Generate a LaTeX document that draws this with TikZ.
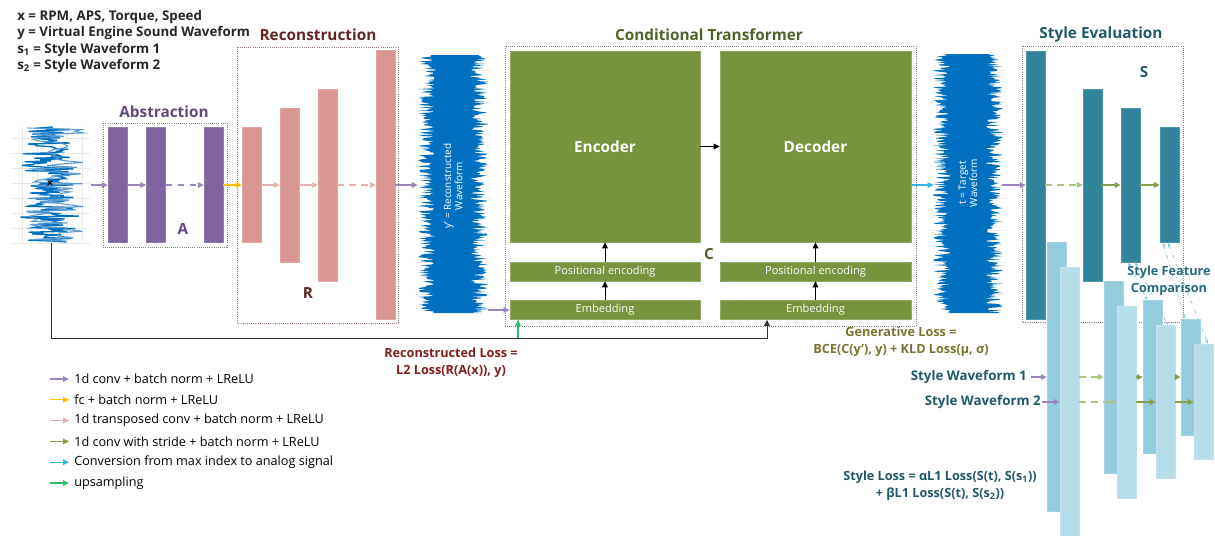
\documentclass[tikz,border=0pt]{standalone}
\usepackage{fontspec}
\setmainfont{Open Sans}
\usetikzlibrary{arrows.meta}

\definecolor{abspurple}{HTML}{8064A2}
\definecolor{absarrow}{HTML}{9A86BC}
\definecolor{abstitle}{HTML}{604A7B}
\definecolor{recpink}{HTML}{D99694}
\definecolor{recarrow}{HTML}{E6B0AE}
\definecolor{rectitle}{HTML}{632523}
\definecolor{trgreen}{HTML}{77933C}
\definecolor{trtitle}{HTML}{4F6228}
\definecolor{stteal}{HTML}{31849B}
\definecolor{sttitle}{HTML}{215968}
\definecolor{svone}{HTML}{93CDDD}
\definecolor{svtwo}{HTML}{B7DEE8}
\definecolor{wblue}{HTML}{0070C0}
\definecolor{wlight}{HTML}{5B9BD5}
\definecolor{fcyellow}{HTML}{FFC000}
\definecolor{convcyan}{HTML}{33B5E8}
\definecolor{upgreen}{HTML}{2DBE6C}
\definecolor{genolive}{HTML}{7A7430}
\definecolor{strgreen}{HTML}{86A04E}
\definecolor{strdash}{HTML}{A9C47F}

\tikzset{
  bar/.style={inner sep=0pt, minimum width=14.25pt, fill=#1, draw=#1!85!white, line width=0.3pt},
  bh/.style={minimum height=#1*0.75pt},
  box/.style={draw=gray, densely dotted, line width=0.6pt},
  ttl/.style={font=\fontsize{11.5}{13}\selectfont\bfseries},
  blk/.style={font=\fontsize{11.5}{12}\selectfont\bfseries},
  arr/.style={-{Triangle[length=4.5pt,width=4.2pt]}, line width=1pt},
  trbox/.style={fill=trgreen, draw=trgreen!80!white, inner sep=0pt, text=white},
  wtext/.style={rotate=90, text=white, align=center, font=\fontsize{7.5}{8.5}\selectfont},
  lgd/.style={inner sep=3.75pt, font=\fontsize{9.5}{11}\selectfont},
  loss/.style={align=center, font=\fontsize{9.5}{13}\selectfont\bfseries},
  cmp/.style={{Stealth[length=3.5pt]}-{Stealth[length=3.5pt]}, svone, dash dot, line width=0.6pt}
}

\begin{document}
\begin{tikzpicture}[x=0.75pt, y=-0.75pt]
\useasboundingbox (0,0) rectangle (1215,536);
\pgfmathsetseed{42}

% definitions
\foreach \t [count=\i] in {{x = RPM, APS, Torque, Speed}, {y = Virtual Engine Sound Waveform},
  {s\textsubscript{1} = Style Waveform 1}, {s\textsubscript{2} = Style Waveform 2}}
  \node[anchor=base west, inner sep=0pt, font=\fontsize{10}{12}\selectfont\bfseries, text=black!85] (def\i) at (17, 4.5+16.2*\i) {\t};

% input waveform x
\foreach \gy in {138,153,...,243} \draw[gray!18, line width=0.4pt] (12,\gy) -- (90,\gy);
\foreach \gx in {22,37,...,82} \draw[gray!18, line width=0.4pt] (\gx,127) -- (\gx,242);
\draw[wblue, line width=1pt] plot[variable=\t, domain=127:242, samples=130] ({50+34*rand*(0.5+0.5*rnd)}, \t);
\draw[wlight, line width=0.8pt] plot[variable=\t, domain=128:241, samples=70] ({54+30*rand}, \t);
\node[minimum width=60pt, minimum height=87pt, inner sep=0pt] (xwave) at (51,185) {};
\node[inner sep=0pt, font=\fontsize{9}{10}\selectfont\bfseries] (xmark) at (50,184) {×};

% Abstraction
\draw[box] (103,123) rectangle (227,247);
\node[ttl, text=abstitle] (abst) at (164,112) {Abstraction};
\node[bar=abspurple, bh=115] (a1) at (117.5,185) {};
\node[bar=abspurple, bh=115] (a2) at (156,185) {};
\node[bar=abspurple, bh=115] (a3) at (213.5,185) {};
\node[blk, text=abstitle] (alab) at (183,229) {A};

% Reconstruction
\draw[box, draw=rectitle!60] (237,47) rectangle (398,323);
\node[ttl, text=rectitle] (rect) at (318,35) {Reconstruction};
\node[bar=recpink, bh=115] (r1) at (251.5,185) {};
\node[bar=recpink, bh=154] (r2) at (289.5,185) {};
\node[bar=recpink, bh=192] (r3) at (327.5,185) {};
\node[bar=recpink, bh=269] (r4) at (385.5,185) {};
\node[blk, text=rectitle] (rlab) at (308,293) {R};

% waveforms y' and t
\foreach \cx/\ya/\yb in {453/55/313, 968/54/313} {
  \foreach \gy in {70,102,...,310} \draw[gray!15, line width=0.5pt] (\cx-38,\gy) -- (\cx+38,\gy);
  \fill[wblue] plot[variable=\t, domain=\ya:\yb, samples=320] ({\cx+26+9*rand}, \t)
    -- plot[variable=\t, domain=\yb:\ya, samples=320] ({\cx-26-9*rand}, \t) -- cycle;
}
\node[minimum width=52.5pt, minimum height=194pt, inner sep=0pt] (ywave) at (453,185) {};
\node[minimum width=51pt, minimum height=194pt, inner sep=0pt] (twave) at (968,185) {};
\node[wtext] (ytxt) at (453,186) {y' = Reconstructed\\Waveform};
\node[wtext] (ttxt) at (968,183) {t = Target\\Waveform};

% Conditional Transformer
\draw[box] (505,46) rectangle (916,326);
\node[ttl, text=trtitle] (trt) at (709,35) {Conditional Transformer};
\node[trbox, minimum width=142.5pt, minimum height=143.25pt, font=\fontsize{11.5}{12}\selectfont\bfseries] (enc) at (605,146.5) {Encoder};
\node[trbox, minimum width=143.25pt, minimum height=143.25pt, font=\fontsize{11.5}{12}\selectfont\bfseries] (dec) at (815.5,146.5) {Decoder};
\node[trbox, minimum width=142.5pt, minimum height=14.25pt, font=\fontsize{8.3}{9}\selectfont] (pe1) at (605,271.5) {Positional encoding};
\node[trbox, minimum width=143.25pt, minimum height=14.25pt, font=\fontsize{8.3}{9}\selectfont] (pe2) at (815.5,271.5) {Positional encoding};
\node[trbox, minimum width=142.5pt, minimum height=14.25pt, font=\fontsize{8.3}{9}\selectfont] (emb1) at (605,310) {Embedding};
\node[trbox, minimum width=143.25pt, minimum height=14.25pt, font=\fontsize{8.3}{9}\selectfont] (emb2) at (815.5,310) {Embedding};
\node[blk, text=trtitle] (clab) at (709,254) {C};

% Style Evaluation
\draw[box] (1022,46) rectangle (1183,322);
\node[ttl, text=sttitle] (stt) at (1101,35) {Style Evaluation};
\node[blk, text=sttitle] (slab) at (1144,72) {S};
\node[bar=stteal, bh=268] (b1) at (1035.5,185) {};
\node[bar=stteal, bh=192] (b2) at (1092.5,185) {};
\node[bar=stteal, bh=154] (b3) at (1130.5,185) {};
\node[bar=stteal, bh=115] (b4) at (1169.5,185) {};
\node[bar=svone, bh=269] (c1) at (1056.5,377) {};
\node[bar=svone, bh=192] (c2) at (1113.5,377) {};
\node[bar=svone, bh=153] (c3) at (1152.5,377) {};
\node[bar=svone, bh=116] (c4) at (1190.5,377) {};
\node[bar=svtwo, bh=269] (d1) at (1069.5,402) {};
\node[bar=svtwo, bh=192] (d2) at (1126.5,402) {};
\node[bar=svtwo, bh=153] (d3) at (1165.5,402) {};
\node[bar=svtwo, bh=115] (d4) at (1203.5,402) {};

% feature comparison
\draw[cmp] ([xshift=-1.9pt]b3.south) -- ([xshift=-4.1pt]c3.north);
\draw[cmp] ([xshift=3.4pt]b3.south) -- ([xshift=1.9pt]d3.north);
\draw[cmp] ([xshift=-4.9pt]b4.south) -- ([xshift=-4.1pt]c4.north);
\draw[cmp] ([xshift=-1.1pt]b4.south) -- ([xshift=3.4pt]d4.north);
\node[align=center, text=stteal!80!black, font=\fontsize{9.5}{12.5}\selectfont\bfseries] (sfc) at (1169,281) {Style Feature\\Comparison};

% main flow
\draw[arr, absarrow] (xwave.east) -- (a1.west);
\draw[arr, absarrow] (a1.east) -- (a2.west);
\draw[arr, absarrow, dash pattern=on 5pt off 4pt] (a2.east) -- (a3.west);
\draw[arr, fcyellow] (a3.east) -- (r1.west);
\draw[arr, recarrow] (r1.east) -- (r2.west);
\draw[arr, recarrow] (r2.east) -- (r3.west);
\draw[arr, recarrow, dash pattern=on 5pt off 4pt] (r3.east) -- (r4.west);
\draw[arr, absarrow] (r4.east) -- (ywave.west);
\draw[arr, absarrow] (ywave.east |- emb1.west) -- (emb1.west);
\draw[arr, black, line width=0.7pt] (emb1.north) -- (pe1.south);
\draw[arr, black, line width=0.7pt] (pe1.north) -- (enc.south);
\draw[arr, black, line width=0.7pt] (emb2.north) -- (pe2.south);
\draw[arr, black, line width=0.7pt] (pe2.north) -- (dec.south);
\draw[arr, black, line width=0.7pt] (enc.east) -- (dec.west);
\draw[arr, convcyan] (dec.east |- twave.west) -- (twave.west);
\draw[arr, absarrow] (twave.east) -- (b1.west);
\draw[arr, strdash, dash pattern=on 5pt off 4pt] (b1.east) -- (b2.west);
\draw[arr, strgreen] (b2.east) -- (b3.west);
\draw[arr, strgreen] (b3.east) -- (b4.west);

% loss path
\coordinate (etap) at (518,338);
\coordinate (dtap) at (767,338);
\draw[arr, black!80, line width=0.7pt] (xwave.south) |- (dtap) -- (dtap |- emb2.south);
\draw[arr, upgreen] (etap) -- (etap |- emb1.south);

% style waveforms
\node[anchor=east, inner sep=0pt, text=sttitle, font=\fontsize{10}{11}\selectfont\bfseries] (sw1) at (1027,377) {Style Waveform 1};
\node[anchor=east, inner sep=0pt, text=sttitle, font=\fontsize{10}{11}\selectfont\bfseries] (sw2) at (1041,402) {Style Waveform 2};
\draw[arr, absarrow, shorten <=3pt] (sw1.east) -- (c1.west);
\draw[arr, absarrow, shorten <=1pt] (sw2.east) -- (d1.west);
\draw[arr, strdash, dash pattern=on 5pt off 4pt] (d1.east |- c1.east) -- (c2.west);
\draw[arr, strgreen] (d2.east |- c2.east) -- (c3.west);
\draw[arr, strgreen] (d3.east |- c3.east) -- (c4.west);
\draw[arr, strdash, dash pattern=on 5pt off 4pt] (d1.east) -- (d2.west);
\draw[arr, strgreen] (d2.east) -- (d3.west);
\draw[arr, strgreen] (d3.east) -- (d4.west);

% losses
\node[loss, text=rectitle!80!red] (recl) at (451,363) {Reconstructed Loss =\\L2 Loss(R(A(x)), y)};
\node[loss, text=genolive] (genl) at (901,341.5) {Generative Loss =\\BCE(C(y'), y) + KLD Loss(μ, σ)};
\node[loss, text=sttitle] (stl) at (940,485.5) {Style Loss = αL1 Loss(S(t), S(s\textsubscript{1}))\\+ βL1 Loss(S(t), S(s\textsubscript{2}))};

% legend
\foreach \c/\t [count=\i] in {absarrow/1d conv + batch norm + LReLU, fcyellow/fc + batch norm + LReLU,
  recarrow/1d transposed conv + batch norm + LReLU, strgreen/1d conv with stride + batch norm + LReLU,
  convcyan/Conversion from max index to analog signal, upgreen/upsampling} {
  \node[lgd, anchor=west] (lg\i) at (69, 358.2+20.8*\i) {\t};
  \coordinate (lt\i) at (50, 358.2+20.8*\i);
  \draw[arr, \c] (lt\i) -- (lg\i.west);
}
\end{tikzpicture}
\end{document}
